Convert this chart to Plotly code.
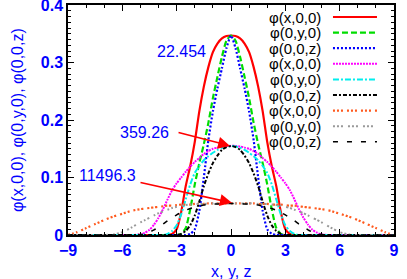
import plotly.graph_objects as go

# half grid (x >= 0); curves are symmetric about 0
X_HALF = [0, 0.25, 0.5, 0.75, 1, 1.25, 1.5, 1.75, 2, 2.25, 2.5, 2.75, 3, 3.25, 3.5,
          3.75, 4, 4.25, 4.5, 4.75, 5, 5.5, 6, 6.5, 7, 7.5, 8, 8.5, 9]

# group 1 (22.454)
phi_x_1 = [0.347, 0.346, 0.342, 0.333, 0.318, 0.292, 0.258, 0.215, 0.162, 0.120, 0.085, 0.040, 0.010, 0.002, 0.0,
           0, 0, 0, 0, 0, 0, 0, 0, 0, 0, 0, 0, 0, 0]
phi_y_1 = [0.347, 0.338, 0.310, 0.275, 0.238, 0.195, 0.158, 0.125, 0.088, 0.045, 0.012, 0.002, 0.0, 0, 0,
           0, 0, 0, 0, 0, 0, 0, 0, 0, 0, 0, 0, 0, 0]
phi_z_1 = [0.347, 0.325, 0.290, 0.255, 0.215, 0.165, 0.100, 0.042, 0.010, 0.002, 0.0, 0, 0, 0, 0,
           0, 0, 0, 0, 0, 0, 0, 0, 0, 0, 0, 0, 0, 0]
# group 2 (359.26)
phi_x_2 = [0.155, 0.155, 0.154, 0.152, 0.150, 0.146, 0.141, 0.134, 0.127, 0.119, 0.110, 0.100, 0.090, 0.078, 0.062,
           0.045, 0.030, 0.018, 0.009, 0.004, 0.001, 0, 0, 0, 0, 0, 0, 0, 0]
phi_y_2 = [0.155, 0.154, 0.152, 0.148, 0.143, 0.137, 0.130, 0.120, 0.108, 0.088, 0.062, 0.036, 0.017, 0.007, 0.002,
           0.0, 0, 0, 0, 0, 0, 0, 0, 0, 0, 0, 0, 0, 0]
phi_z_2 = [0.155, 0.153, 0.148, 0.138, 0.125, 0.107, 0.085, 0.058, 0.034, 0.017, 0.007, 0.002, 0.0, 0, 0,
           0, 0, 0, 0, 0, 0, 0, 0, 0, 0, 0, 0, 0, 0]
# group 3 (11496.3)
phi_x_3 = [0.055, 0.055, 0.055, 0.055, 0.055, 0.055, 0.054, 0.054, 0.054, 0.053, 0.053, 0.053, 0.052, 0.051, 0.051,
           0.050, 0.049, 0.048, 0.047, 0.046, 0.045, 0.042, 0.037, 0.032, 0.026, 0.019, 0.012, 0.005, 0.0]
phi_y_3 = [0.055, 0.055, 0.055, 0.055, 0.055, 0.055, 0.054, 0.054, 0.054, 0.053, 0.052, 0.051, 0.049, 0.047, 0.044,
           0.041, 0.038, 0.034, 0.030, 0.026, 0.022, 0.013, 0.005, 0.001, 0.0, 0, 0, 0, 0]
phi_z_3 = [0.055, 0.055, 0.055, 0.054, 0.054, 0.053, 0.052, 0.050, 0.048, 0.046, 0.043, 0.039, 0.035, 0.030, 0.025,
           0.019, 0.014, 0.009, 0.005, 0.002, 0.001, 0, 0, 0, 0, 0, 0, 0, 0]

X_TICKS = [-9, -6, -3, 0, 3, 6, 9]
Y_TICKS = [0, 0.1, 0.2, 0.3, 0.4]
Y_TICKTEXT = ["0", "0.1", "0.2", "0.3", "0.4"]

LABELS = ["φ(x,0,0)", "φ(0,y,0)", "φ(0,0,z)"] * 3
SERIES = [phi_x_1, phi_y_1, phi_z_1, phi_x_2, phi_y_2, phi_z_2, phi_x_3, phi_y_3, phi_z_3]
COLORS = ["#ff0000", "#00dd00", "#0000ff", "#ff00ff", "#00eeee", "#000000",
          "#ff5a1e", "#999999", "#000000"]
DASHES = ["solid", "6px,3px", "2px,2px", "2px,1px", "6px,2px,2px,2px", "4px,2px,2px,2px",
          "2px,2px,2px,2px,2px,4px", "2px,2px,2px,2px,2px,5px", "5px,9px"]
WIDTHS = [2.2, 2.2, 2.2, 2.0, 2.0, 2.0, 2.2, 2.0, 1.5]

NOTES = ["22.454", "359.26", "11496.3"]

fig = go.Figure()
xs = [-v for v in X_HALF[::-1]] + X_HALF[1:]
for ys, c, d, w, name in zip(SERIES, COLORS, DASHES, WIDTHS, LABELS):
    yy = ys[::-1] + ys[1:]
    fig.add_trace(go.Scatter(x=xs, y=yy, mode="lines", name=name, showlegend=False,
                             line=dict(color=c, dash=d, width=w, shape="spline", smoothing=0.6)))

FONT = "Liberation Sans"
# custom legend (text left, sample right)
shapes = []
annotations = []
for i, (name, c, d, w) in enumerate(zip(LABELS, COLORS, DASHES, WIDTHS)):
    py = 17 + 15.6 * i
    yv = (235 - py) / 575
    annotations.append(dict(x=5.08, y=yv, xref="x", yref="y", text=name, showarrow=False,
                            xanchor="right", yanchor="middle",
                            font=dict(family=FONT, size=15, color="black")))
    shapes.append(dict(type="line", xref="x", yref="y", x0=5.63, x1=8.06, y0=yv, y1=yv,
                       line=dict(color=c, dash=d, width=w)))

# value labels and arrows
blue_font = dict(family=FONT, size=16, color="#0000ff")
annotations.append(dict(x=-2.76, y=0.32, text=NOTES[0], showarrow=False, font=blue_font))
annotations.append(dict(x=-4.75, y=0.179, text=NOTES[1], showarrow=False, font=blue_font))
annotations.append(dict(x=-6.8, y=0.103, text=NOTES[2], showarrow=False, font=blue_font))
annotations.append(dict(x=-0.05, y=0.155, ax=-2.98, ay=0.179, axref="x", ayref="y",
                        xref="x", yref="y", text="", showarrow=True, arrowhead=2,
                        arrowsize=1.5, arrowwidth=1.6, arrowcolor="#ff0000"))
annotations.append(dict(x=0.05, y=0.056, ax=-5.08, ay=0.092, axref="x", ayref="y",
                        xref="x", yref="y", text="", showarrow=True, arrowhead=2,
                        arrowsize=1.5, arrowwidth=1.6, arrowcolor="#ff0000"))
# axis titles
annotations.append(dict(x=0.5, y=-36 / 230, xref="paper", yref="paper", text="x, y, z",
                        showarrow=False, yanchor="middle", font=blue_font))
annotations.append(dict(x=-51 / 326, y=0.5, xref="paper", yref="paper",
                        text="φ(x,0,0), φ(0,y,0), φ(0,0,z)", textangle=-90,
                        showarrow=False, xanchor="center", yanchor="middle", font=blue_font))

axis_font = dict(family=FONT, size=16, color="#0000ff", weight="bold")
fig.update_layout(
    width=407, height=279,
    margin=dict(l=68, r=13, t=5, b=44, autoexpand=False),
    plot_bgcolor="white", paper_bgcolor="white",
    shapes=shapes, annotations=annotations,
    xaxis=dict(range=[-9, 9], tickvals=X_TICKS, ticks="inside", ticklen=6,
               tickcolor="black", mirror="allticks", showline=True, linecolor="black", linewidth=1.5,
               showgrid=False, zeroline=False, tickfont=axis_font, automargin=False,
               minor=dict(dtick=1, tick0=-9, ticks="inside", ticklen=3, tickcolor="black")),
    yaxis=dict(range=[0, 0.4], tickvals=Y_TICKS, ticktext=Y_TICKTEXT, ticks="inside", ticklen=6,
               automargin=False, ticklabeloverflow="allow",
               tickcolor="black", mirror="allticks", showline=True, linecolor="black", linewidth=1.5,
               showgrid=False, zeroline=False, tickfont=axis_font,
               minor=dict(dtick=0.01, ticks="inside", ticklen=3, tickcolor="black")),
)

fig.write_html("out.html", config={"displayModeBar": False},
               post_script="document.body.style.margin='0';")
